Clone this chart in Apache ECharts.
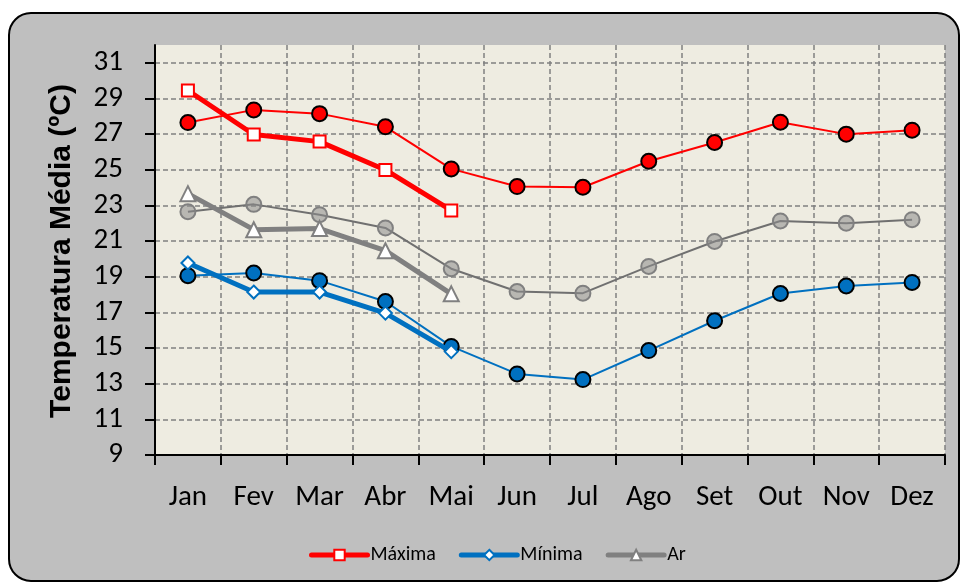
<!DOCTYPE html>
<html>
<head>
<meta charset="utf-8">
<script src="https://cdn.jsdelivr.net/npm/echarts@6/dist/echarts.min.js"></script>
<style>
  html, body { margin: 0; padding: 0; background: #fff; }
  #chart { width: 961px; height: 583px; }
</style>
</head>
<body>
<div id="chart"></div>
<script>
// meses
var meses = ['Jan', 'Fev', 'Mar', 'Abr', 'Mai', 'Jun', 'Jul', 'Ago', 'Set', 'Out', 'Nov', 'Dez'];

// normais (ano inteiro, circulos)
var maxAno = [27.65, 28.36, 28.15, 27.41, 25.05, 24.06, 24.02, 25.48, 26.53, 27.67, 27.0, 27.22];
var minAno = [19.06, 19.21, 18.78, 17.61, 15.09, 13.55, 13.23, 14.86, 16.53, 18.06, 18.48, 18.68];
var arAno  = [22.65, 23.06, 22.48, 21.74, 19.45, 18.17, 18.08, 19.58, 20.98, 22.13, 22.0, 22.2];

// ano corrente (Jan-Mai, linhas grossas)
var maxima = [29.45, 26.98, 26.58, 24.99, 22.72];
var minima = [19.77, 18.14, 18.14, 16.96, 14.8];
var ar     = [23.66, 21.64, 21.7, 20.46, 18.04];

var yMin = 9, yMax = 32, yStep = 2;

var myChart = echarts.init(document.getElementById('chart'));

var dash = [5, 3];
var fonte = 'Carlito, Lato, sans-serif';

function linhaAno(nome, dados, cor, borda, preench) {
    return {
        name: nome,
        type: 'line',
        data: dados,
        symbol: 'circle',
        symbolSize: 15,
        lineStyle: { color: cor, width: 2 },
        itemStyle: { color: preench, borderColor: borda, borderWidth: 2 },
        z: 3
    };
}

function linhaAtual(nome, dados, cor, simbolo, tam) {
    return {
        name: nome,
        type: 'line',
        data: dados,
        symbol: simbolo,
        symbolSize: tam,
        lineStyle: { color: cor, width: 5 },
        itemStyle: { color: '#fff', borderColor: cor, borderWidth: 2 },
        z: 4
    };
}

var Option = {
    animation: false,
    backgroundColor: '#fff',
    graphic: [{
        type: 'rect',
        z: -100,
        shape: { x: 9, y: 13, width: 950, height: 568, r: 22 },
        style: { fill: '#BFBFBF', stroke: '#000', lineWidth: 2 }
    }, {
        type: 'text',
        x: 62,
        y: 251,
        rotation: Math.PI / 2,
        style: {
            text: 'Temperatura Média (ºC)',
            font: 'bold 30px "Liberation Sans", Arial, sans-serif',
            fill: '#000',
            align: 'center',
            verticalAlign: 'middle'
        }
    }],
    legend: {
        data: ['Máxima', 'Mínima', 'Ar'],
        top: 545,
        left: 309,
        padding: 0,
        itemWidth: 56,
        itemHeight: 13,
        itemGap: 23,
        lineStyle: { width: 5, cap: 'round' },
        textStyle: { fontFamily: fonte, fontSize: 20, color: '#000', padding: [0, 0, 0, -2] }
    },
    grid: {
        left: 155,
        top: 45,
        right: 16,
        bottom: 128,
        show: true,
        backgroundColor: '#EEECE1',
        borderWidth: 0
    },
    xAxis: {
        type: 'category',
        data: meses,
        boundaryGap: true,
        axisLine: { lineStyle: { color: '#000', width: 2 } },
        axisTick: { show: true, length: 10, lineStyle: { color: '#000', width: 2 } },
        axisLabel: { margin: 28, fontFamily: fonte, fontSize: 29, color: '#000' },
        splitLine: { show: true, lineStyle: { color: '#808080', width: 1.5, type: dash } }
    },
    yAxis: {
        type: 'value',
        min: yMin,
        max: yMax,
        interval: yStep,
        axisLine: { show: true, lineStyle: { color: '#000', width: 2 } },
        axisTick: { show: true, length: 10, lineStyle: { color: '#000', width: 2 } },
        axisLabel: {
            margin: 32,
            fontFamily: fonte,
            fontSize: 29,
            color: '#000',
            showMaxLabel: false,
            formatter: function (v) { return v === yMax ? '' : v; }
        },
        splitLine: {
            show: true,
            showMaxLine: false,
            lineStyle: { color: '#808080', width: 1.5, type: dash }
        }
    },
    series: [
        linhaAno('Ar (normal)', arAno, '#707070', '#808080', 'rgba(140,140,140,0.55)'),
        linhaAno('Mínima (normal)', minAno, '#0070C0', '#000', '#0070C0'),
        linhaAno('Máxima (normal)', maxAno, '#FF0000', '#000', '#FF0000'),
        linhaAtual('Máxima', maxima, '#FF0000', 'rect', 12),
        linhaAtual('Mínima', minima, '#0070C0', 'diamond', 13),
        linhaAtual('Ar', ar, '#808080', 'triangle', 15)
    ]
};

myChart.setOption(Option);
</script>
</body>
</html>
